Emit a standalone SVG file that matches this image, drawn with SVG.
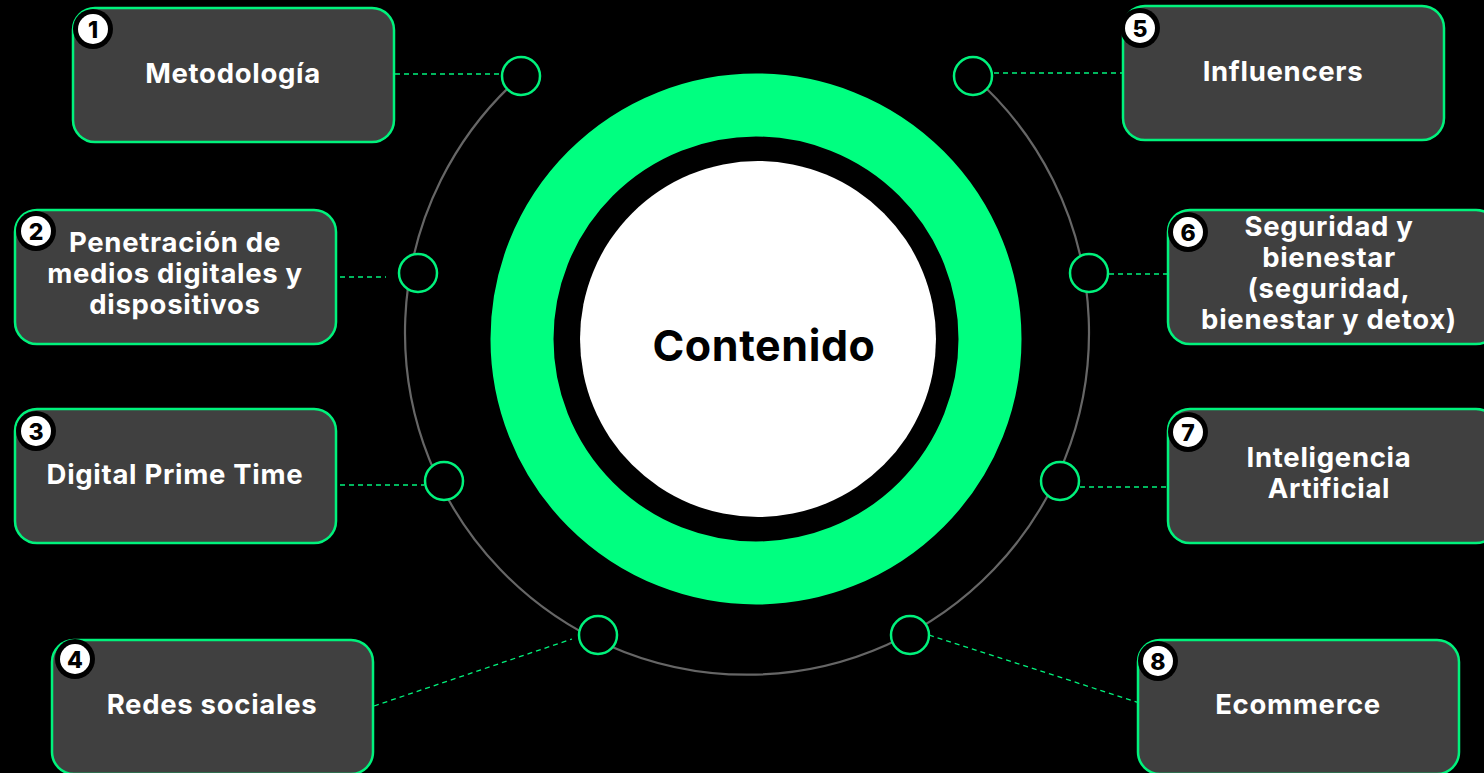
<svg xmlns="http://www.w3.org/2000/svg" width="1484" height="773" viewBox="0 0 1484 773">
  <style>
    .box { fill: #404040; stroke: #00F27C; stroke-width: 2.5; }
    .lbl { font-family: "Inter", "Liberation Sans", sans-serif; font-weight: 700; font-size: 27.5px; letter-spacing: 0.7px; fill: #ffffff; text-anchor: middle; }
    .badge-o { fill: #000000; }
    .badge-i { fill: #ffffff; }
    .num { font-family: "Inter", "Liberation Sans", sans-serif; font-weight: 800; font-size: 23px; fill: #000000; text-anchor: middle; }
    .dot { fill: #000000; stroke: #00F27C; stroke-width: 2.5; }
    .link { stroke: #00F27C; stroke-width: 1.3; stroke-dasharray: 5 4; fill: none; }
  </style>
  <rect x="0" y="0" width="1484" height="773" fill="#000000"/>

  <!-- orbit arc and hub -->
  <g id="hub">
    <path d="M 521 76 A 342 342 0 1 0 973 76" fill="none" stroke="#666666" stroke-width="2.2"/>
    <circle cx="756" cy="339" r="234" fill="none" stroke="#00FF80" stroke-width="63"/>
    <circle cx="758" cy="339" r="178" fill="#ffffff"/>
    <text x="764" y="361" font-family="Inter, 'Liberation Sans', sans-serif" font-weight="700" font-size="43" letter-spacing="0.6" fill="#000000" text-anchor="middle">Contenido</text>
  </g>

  <!-- dashed connectors -->
  <g id="connectors">
    <line class="link" x1="395" y1="74" x2="500" y2="74"/>
    <line class="link" x1="340" y1="277" x2="386" y2="277"/>
    <line class="link" x1="340" y1="485" x2="424" y2="485"/>
    <line class="link" x1="374" y1="706" x2="572" y2="639"/>
    <line class="link" x1="994" y1="73" x2="1123" y2="73"/>
    <line class="link" x1="1109" y1="274" x2="1168" y2="274"/>
    <line class="link" x1="1080" y1="487" x2="1168" y2="487"/>
    <line class="link" x1="929" y1="635" x2="1146" y2="705"/>
  </g>

  <!-- orbit points -->
  <g id="points">
    <circle class="dot" cx="521" cy="76" r="19"/>
    <circle class="dot" cx="418" cy="273" r="19"/>
    <circle class="dot" cx="444" cy="481" r="19"/>
    <circle class="dot" cx="598" cy="635" r="19"/>
    <circle class="dot" cx="910" cy="635" r="19"/>
    <circle class="dot" cx="1060" cy="481" r="19"/>
    <circle class="dot" cx="1089" cy="273" r="19"/>
    <circle class="dot" cx="973" cy="76" r="19"/>
  </g>

  <g id="node1">
    <rect class="box" x="73" y="8" width="321" height="134" rx="22"/>
    <circle class="badge-o" cx="93" cy="29" r="20"/>
    <circle class="badge-i" cx="93" cy="29" r="15"/>
    <text class="num" x="93" y="37.5">1</text>
    <text class="lbl" x="233" y="83">Metodología</text>
  </g>

  <g id="node2">
    <rect class="box" x="15" y="210" width="321" height="134" rx="22"/>
    <circle class="badge-o" cx="36" cy="231" r="20"/>
    <circle class="badge-i" cx="36" cy="231" r="15"/>
    <text class="num" x="36" y="239.5">2</text>
    <text class="lbl" x="175" y="252">Penetración de</text>
    <text class="lbl" x="175" y="283">medios digitales y</text>
    <text class="lbl" x="175" y="314">dispositivos</text>
  </g>

  <g id="node3">
    <rect class="box" x="15" y="409" width="321" height="134" rx="22"/>
    <circle class="badge-o" cx="36" cy="431" r="20"/>
    <circle class="badge-i" cx="36" cy="431" r="15"/>
    <text class="num" x="36" y="439.5">3</text>
    <text class="lbl" x="175" y="484">Digital Prime Time</text>
  </g>

  <g id="node4">
    <rect class="box" x="52" y="640" width="321" height="134" rx="22"/>
    <circle class="badge-o" cx="75" cy="659" r="20"/>
    <circle class="badge-i" cx="75" cy="659" r="15"/>
    <text class="num" x="75" y="667.5">4</text>
    <text class="lbl" x="212" y="714">Redes sociales</text>
  </g>

  <g id="node5">
    <rect class="box" x="1123" y="6" width="321" height="134" rx="22"/>
    <circle class="badge-o" cx="1140" cy="28" r="20"/>
    <circle class="badge-i" cx="1140" cy="28" r="15"/>
    <text class="num" x="1140" y="36.5">5</text>
    <text class="lbl" x="1283" y="81">Influencers</text>
  </g>

  <g id="node6">
    <rect class="box" x="1168" y="210" width="330" height="134" rx="22"/>
    <circle class="badge-o" cx="1188" cy="232" r="20"/>
    <circle class="badge-i" cx="1188" cy="232" r="15"/>
    <text class="num" x="1188" y="240.5">6</text>
    <text class="lbl" x="1329" y="236">Seguridad y</text>
    <text class="lbl" x="1329" y="267">bienestar</text>
    <text class="lbl" x="1329" y="298">(seguridad,</text>
    <text class="lbl" x="1329" y="329">bienestar y detox)</text>
  </g>

  <g id="node7">
    <rect class="box" x="1168" y="409" width="330" height="134" rx="22"/>
    <circle class="badge-o" cx="1188" cy="432" r="20"/>
    <circle class="badge-i" cx="1188" cy="432" r="15"/>
    <text class="num" x="1188" y="440.5">7</text>
    <text class="lbl" x="1329" y="467">Inteligencia</text>
    <text class="lbl" x="1329" y="498">Artificial</text>
  </g>

  <g id="node8">
    <rect class="box" x="1138" y="640" width="321" height="134" rx="22"/>
    <circle class="badge-o" cx="1158" cy="661" r="20"/>
    <circle class="badge-i" cx="1158" cy="661" r="15"/>
    <text class="num" x="1158" y="669.5">8</text>
    <text class="lbl" x="1298" y="714">Ecommerce</text>
  </g>
</svg>
